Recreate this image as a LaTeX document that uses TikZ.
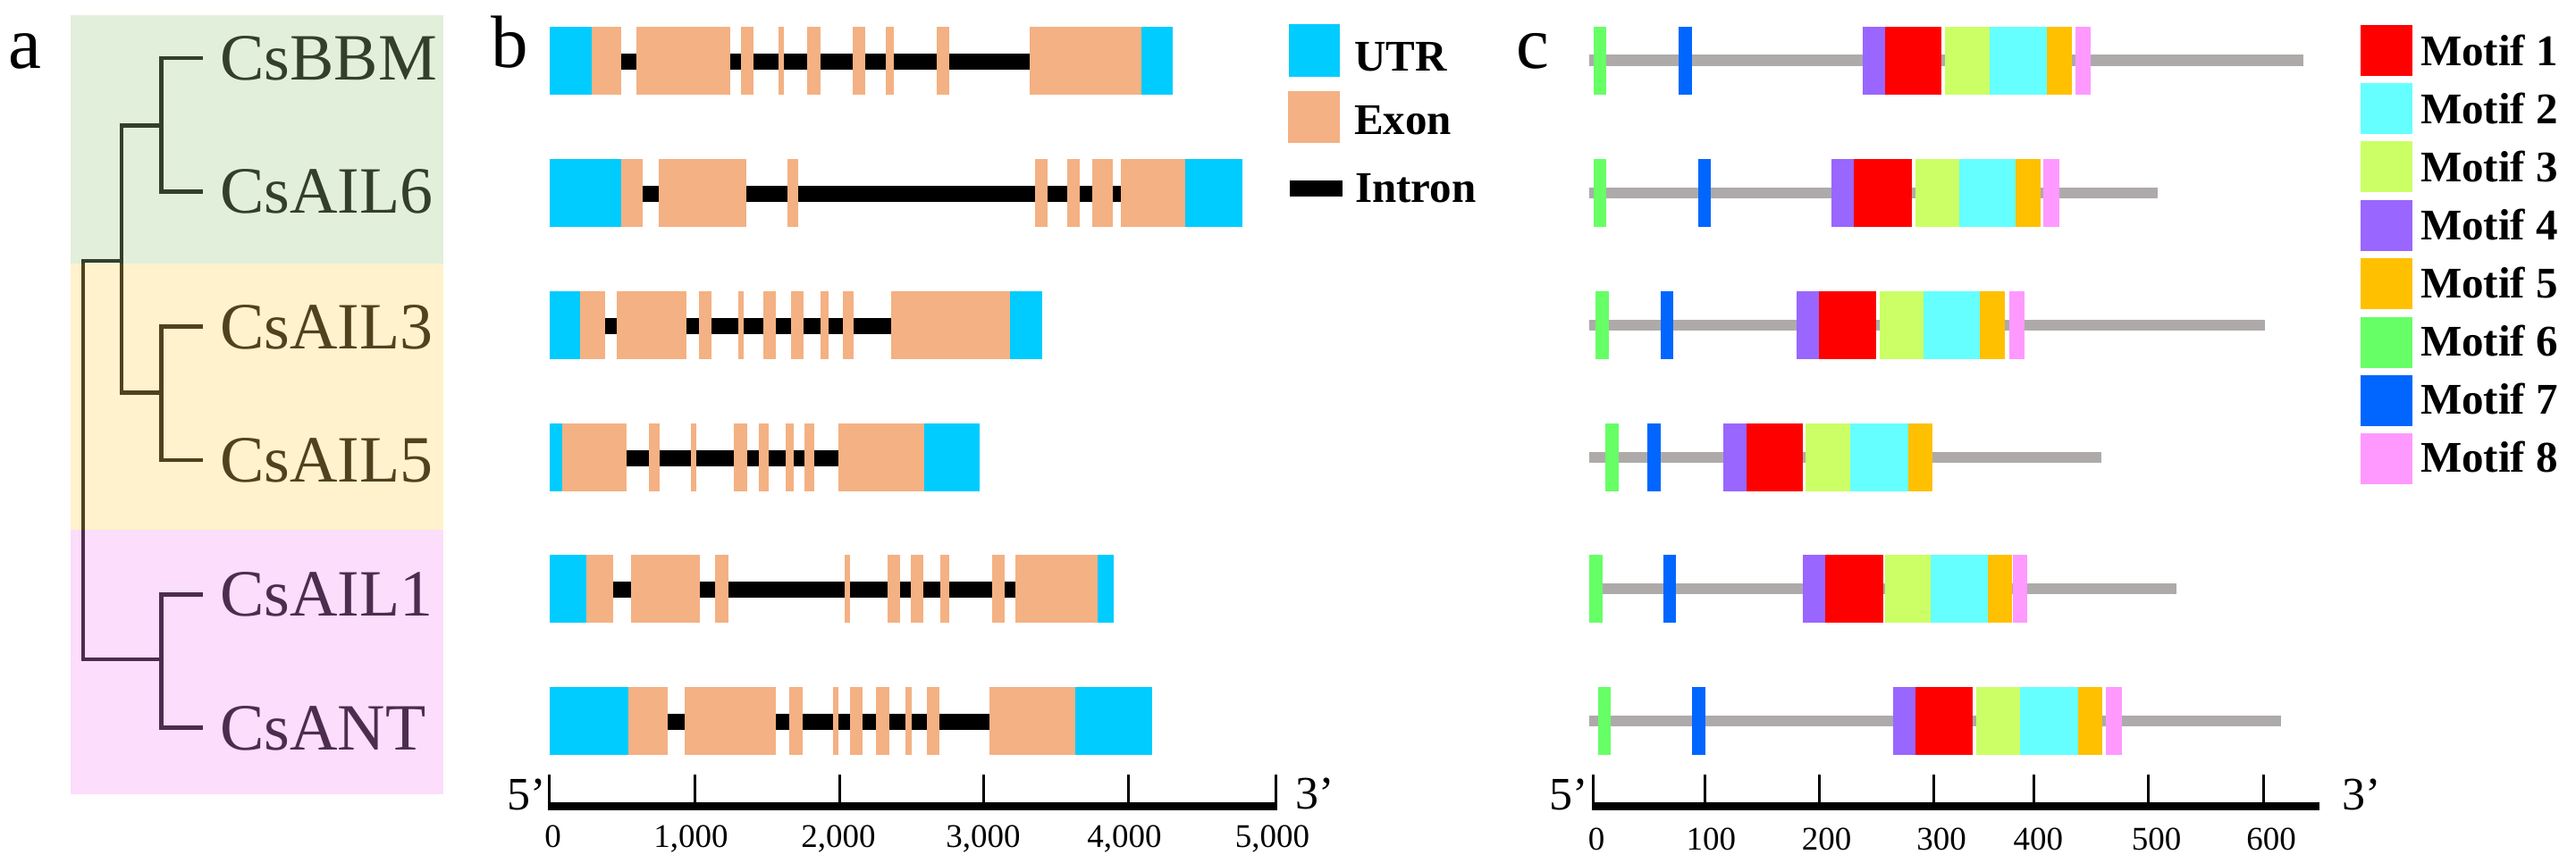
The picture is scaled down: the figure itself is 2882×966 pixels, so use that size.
\documentclass[tikz,border=0pt]{standalone}
\usepackage{fontspec}
\setmainfont{Liberation Serif}
\definecolor{utr}{HTML}{00CCFF}
\definecolor{exon}{HTML}{F4B183}
\definecolor{gline}{HTML}{AEAAAA}
\definecolor{mone}{HTML}{FF0000}
\definecolor{mtwo}{HTML}{66FFFF}
\definecolor{mthree}{HTML}{CCFF66}
\definecolor{mfour}{HTML}{9966FF}
\definecolor{mfive}{HTML}{FFC000}
\definecolor{msix}{HTML}{66FF66}
\definecolor{mseven}{HTML}{0066FF}
\definecolor{meight}{HTML}{FF99FF}
\definecolor{bgG}{HTML}{E2EFDA}
\definecolor{bgY}{HTML}{FFF2CC}
\definecolor{bgP}{HTML}{FCDDFC}
\definecolor{lnG}{HTML}{333F2B}
\definecolor{lnY}{HTML}{50421F}
\definecolor{lnP}{HTML}{4D2C4F}
\newcommand\genebox[5]{%
  \fill[black] (#2,#1+30) rectangle (#3,#1+48);
  \foreach \xa/\xb in {#4} {\fill[utr] (\xa,#1) rectangle (\xb,#1+76);}
  \foreach \xa/\xb in {#5} {\fill[exon] (\xa,#1) rectangle (\xb,#1+76);}
}
\newcommand\protrow[3]{%
  \fill[gline] (1777.6,#1+31.5) rectangle (#2,#1+44);
  \foreach \cc/\xa/\xb in {#3} {\fill[\cc] (\xa,#1) rectangle (\xb,#1+76);}
}
\begin{document}
\begin{tikzpicture}[x=1pt,y=-1pt,
  leafl/.style={font=\fontsize{74}{80}\selectfont, anchor=base west, inner sep=0pt},
  panell/.style={font=\fontsize{83}{90}\selectfont, anchor=base west, inner sep=0pt},
  legl/.style={font=\bfseries\fontsize{49}{55}\selectfont, anchor=base west, inner sep=0pt},
  tickl/.style={font=\fontsize{37}{40}\selectfont, anchor=base, inner sep=0pt},
  endl/.style={font=\fontsize{52}{56}\selectfont, anchor=base west, inner sep=0pt},
  treeline/.style={line width=4.3pt, line cap=rect, line join=miter}]
\fill[white] (0,0) rectangle (2882,966);
\path[use as bounding box] (0,0) rectangle (2882,966);

% ---------- panel a ----------
\node[panell] (pa) at (9,77) {a};
\fill[bgG] (79.3,17.3) rectangle (496,295);
\fill[bgY] (79.3,295) rectangle (496,593);
\fill[bgP] (79.3,593) rectangle (496,888.5);

\coordinate (tBBM) at (224.5,64.7);
\coordinate (tAIL6) at (224.5,214.4);
\coordinate (tAIL3) at (224.5,365.5);
\coordinate (tAIL5) at (224.5,514.7);
\coordinate (tAIL1) at (224.5,665.4);
\coordinate (tANT) at (224.5,814.5);
\coordinate (n1) at (180.5,140.5);
\coordinate (n2) at (180.5,439.5);
\coordinate (n3) at (136,291.7);
\coordinate (n4) at (180.5,738);
\coordinate (root) at (92.7,515);

\foreach \ya/\yb/\cc in {0/295/lnG,295/593/lnY,593/966/lnP}{
  \begin{scope}
    \clip (0,\ya) rectangle (560,\yb);
    \draw[treeline,\cc] (root) |- (n3) (root) |- (n4)
      (n3) |- (n1) (n3) |- (n2)
      (n1) |- (tBBM) (n1) |- (tAIL6)
      (n2) |- (tAIL3) (n2) |- (tAIL5)
      (n4) |- (tAIL1) (n4) |- (tANT);
  \end{scope}
}
\node[leafl,text=lnG] (lBBM) at (246,89.2) {CsBBM};
\node[leafl,text=lnG] (lAIL6) at (246,238.9) {CsAIL6};
\node[leafl,text=lnY] (lAIL3) at (246,390) {CsAIL3};
\node[leafl,text=lnY] (lAIL5) at (246,539.2) {CsAIL5};
\node[leafl,text=lnP] (lAIL1) at (246,689.9) {CsAIL1};
\node[leafl,text=lnP] (lANT) at (246,839) {CsANT};

% ---------- panel b ----------
\node[panell] (pb) at (549,75) {b};
\genebox{30}{695}{1152}{614.6/662.3,1276.5/1312}
  {662.3/695,712.2/817.3,828.7/843.1,871.2/877,903.4/918.3,953.9/968.3,991.2/999.8,1048/1061.8,1152/1276.5}
\genebox{178}{719.1}{1254.1}{614.6/695,1325.9/1390.2}
  {695/719.1,736.9/835.1,881/893,1158.3/1172,1194.4/1208.2,1222/1245,1254.1/1325.9}
\genebox{326}{677.2}{996.9}{614.6/649.1,1130.1/1165.7}
  {649.1/677.2,689.8/767.9,782.3/796,825.9/832.2,854/867.8,885/898.8,918.3/926.9,943/955,996.9/1130.1}
\genebox{474}{700.7}{937.8}{614.6/629,1033.7/1096.3}
  {629/700.7,726/738,772.5/778.8,821.3/835.6,848.8/859.7,879.3/887.9,899.9/911.4,937.8/1033.7}
\genebox{621}{685.8}{1135.9}{614.6/656,1227.7/1246.1}
  {656/685.8,705.9/782.8,800/815,945.3/951,993/1006.7,1019.3/1033.1,1052/1061.8,1110/1123.8,1135.9/1227.7}
\genebox{769}{747.2}{1107.2}{614.6/703,1203/1289.2}
  {703/747.2,766.2/867.8,883.3/898.2,932.1/937.8,950.5/964.8,980.3/995.2,1013/1019.9,1037.1/1050.9,1107.2/1203}

% axis b
\fill[black] (612.9,898.2) rectangle (1429.3,906.7);
\foreach \xt in {614.4,777.1,939.5,1100.3,1262.2,1427.8}
  {\fill[black] (\xt-1.5,867) rectangle (\xt+1.5,902);}
\foreach \xl/\tl in {618.5/0,773/{1,000},938/{2,000},1100/{3,000},1258/{4,000},1423.5/{5,000}}
  {\node[tickl] at (\xl,948.3) {\tl};}
\node[endl] (b5) at (567,906.7) {5’};
\node[endl] (b3) at (1449,905) {3’};

% legend b
\fill[utr] (1441.8,27.3) rectangle (1499,85.7);
\fill[exon] (1440.8,102.3) rectangle (1499,160);
\fill[black] (1442.9,201.7) rectangle (1502,220);
\node[legl] (lgU) at (1514.8,79.3) {UTR};
\node[legl] (lgE) at (1514.8,150.7) {Exon};
\node[legl] (lgI) at (1516,226.7) {Intron};

% ---------- panel c ----------
\node[panell] (pc) at (1696,76) {c};
\protrow{30}{2577}{msix/1782.7/1797,mseven/1878/1893,mfour/2084/2109,mone/2109/2172.4,mthree/2175.7/2226,mtwo/2226/2290,mfive/2290/2318,meight/2321.8/2339}
\protrow{178}{2414}{msix/1782.7/1797,mseven/1900/1914.3,mfour/2049/2074,mone/2074/2138.8,mthree/2142.9/2192,mtwo/2192/2255,mfive/2255/2283,meight/2286/2304}
\protrow{326}{2533.8}{msix/1785/1800,mseven/1858/1872,mfour/2009.7/2035,mone/2035/2099,mthree/2103/2152,mtwo/2152/2215.4,mfive/2215.4/2243.4,meight/2248/2265}
\protrow{474}{2350.5}{msix/1796/1811,mseven/1843/1858,mfour/1928/1953.6,mone/1953.6/2016.8,mthree/2020.4/2070,mtwo/2070/2134.7,mfive/2134.7/2162.2}
\protrow{621}{2434.7}{msix/1777.6/1793,mseven/1861/1875,mfour/2016.8/2041.8,mone/2041.8/2106.6,mthree/2109/2160,mtwo/2160/2223.5,mfive/2223.5/2251,meight/2252/2268}
\protrow{769}{2551.7}{msix/1787.8/1802,mseven/1893/1908,mfour/2118.4/2143,mone/2143/2207,mthree/2211/2260,mtwo/2260/2324.5,mfive/2324.5/2352,meight/2356/2373.5}

% axis c
\fill[black] (1780.6,898.3) rectangle (2595,906.7);
\foreach \xt in {1782.1,1907.7,2035.2,2163.3,2275.5,2403.3,2532.3}
  {\fill[black] (\xt-1.6,867) rectangle (\xt+1.6,902);}
\foreach \xl/\tl in {1786/0,1914.3/100,2043.5/200,2172/300,2280.3/400,2412.7/500,2541/600}
  {\node[tickl] at (\xl,951.7) {\tl};}
\node[endl] (c5) at (1733,906.7) {5’};
\node[endl] (c3) at (2620,906.7) {3’};

% legend c
\foreach \cc [count=\i from 0] in {mone,mtwo,mthree,mfour,mfive,msix,mseven,meight}
  {\fill[\cc] (2641,27.6+65.4*\i) rectangle (2698.6,84.6+65.4*\i);}
\foreach \tl [count=\i from 0] in {1,...,8}
  {\node[legl] (mt\tl) at (2708,73.7+65*\i) {Motif \tl};}
\end{tikzpicture}
\end{document}
